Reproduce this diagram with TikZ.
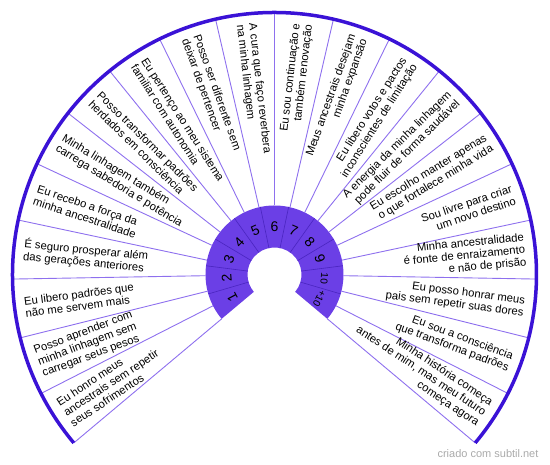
\documentclass[tikz,border=0pt]{standalone}
\usepackage{fontspec}
\setmainfont{Liberation Sans}
\definecolor{ringfill}{HTML}{6B3FE6}
\definecolor{ringline}{HTML}{4A25C0}
\definecolor{rayline}{HTML}{8E70EE}
\definecolor{arcline}{HTML}{3A12D6}
\definecolor{credit}{HTML}{AAAAAA}
\begin{document}
\begin{tikzpicture}[x=1pt,y=1pt,
  stmtL/.style={font=\fontsize{11.3}{12.3}\selectfont, align=left, anchor=west, inner sep=0pt},
  stmtR/.style={font=\fontsize{11.3}{12.3}\selectfont, align=right, anchor=east, inner sep=0pt},
  num/.style={font=\fontsize{14}{14}\selectfont, inner sep=0pt},
  numsmall/.style={font=\fontsize{10}{10}\selectfont, inner sep=0pt}]
\useasboundingbox (-274.5,-190.5) rectangle (275.5,274.5);
% inner numbered ring
\fill[ringfill] (220:27) -- (220:69) arc[start angle=220, end angle=-40, radius=69]
  -- (-40:27) arc[start angle=-40, end angle=220, radius=27] -- cycle;
\foreach \i in {1,...,10}
  \draw[ringline, line width=0.6] ({220-\i*260/11}:27) -- ({220-\i*260/11}:69);
% rays
\foreach \i in {0,...,20}
  \draw[rayline, line width=0.9] ({220-13*\i}:69) -- ({220-13*\i}:262);
% outer arc
\draw[arcline, line width=3.5] (220:262) arc[start angle=220, end angle=-40, radius=262];
% numbers
\foreach \i in {1,...,9}
  \node[num, rotate={130-(\i-0.5)*260/11}] (n\i) at ({220-(\i-0.5)*260/11}:48) {\i};
\node[numsmall, rotate=-94.55] (n10) at (-4.55:50) {10};
\node[numsmall, rotate=-118.18] (n11) at (-28.18:51) {+10};
% statements, left half
\node[stmtL, rotate=33.5] (s1) at (213.5:252) {Eu honro meus\\ancestrais sem repetir\\seus sofrimentos};
\node[stmtL, rotate=20.5] (s2) at (200.5:252) {Posso aprender com\\minha linhagem sem\\carregar seus pesos};
\node[stmtL, rotate=7.5] (s3) at (187.5:252) {Eu libero padrões que\\não me servem mais};
\node[stmtL, rotate=-5.5] (s4) at (174.5:252) {É seguro prosperar além\\das gerações anteriores};
\node[stmtL, rotate=-18.5] (s5) at (161.5:252) {Eu recebo a força da\\minha ancestralidade};
\node[stmtL, rotate=-31.5] (s6) at (148.5:252) {Minha linhagem também\\carrega sabedoria e potência};
\node[stmtL, rotate=-44.5] (s7) at (135.5:252) {Posso transformar padrões\\herdados em consciência};
\node[stmtL, rotate=-57.5] (s8) at (122.5:252) {Eu pertenço ao meu sistema\\familiar com autonomia};
\node[stmtL, rotate=-70.5] (s9) at (109.5:252) {Posso ser diferente sem\\deixar de pertencer};
\node[stmtL, rotate=-83.5] (s10) at (96.5:252) {A cura que faço reverbera\\na minha linhagem};
% statements, right half
\node[stmtR, rotate=83.5] (s11) at (83.5:252) {Eu sou continuação e\\também renovação};
\node[stmtR, rotate=70.5] (s12) at (70.5:252) {Meus ancestrais desejam\\minha expansão};
\node[stmtR, rotate=57.5] (s13) at (57.5:252) {Eu libero votos e pactos\\inconscientes de limitação};
\node[stmtR, rotate=44.5] (s14) at (44.5:252) {A energia da minha linhagem\\pode fluir de forma saudável};
\node[stmtR, rotate=31.5] (s15) at (31.5:252) {Eu escolho manter apenas\\o que fortalece minha vida};
\node[stmtR, rotate=18.5] (s16) at (18.5:252) {Sou livre para criar\\um novo destino};
\node[stmtR, rotate=5.5] (s17) at (5.5:252) {Minha ancestralidade\\é fonte de enraizamento\\e não de prisão};
\node[stmtR, rotate=-7.5] (s18) at (-7.5:252) {Eu posso honrar meus\\pais sem repetir suas dores};
\node[stmtR, rotate=-20.5] (s19) at (-20.5:252) {Eu sou a consciência\\que transforma padrões};
\node[stmtR, rotate=-33.5] (s20) at (-33.5:252) {Minha história começa\\antes de mim, mas meu futuro\\começa agora};
% credit
\node[font=\fontsize{11}{11}\selectfont, text=credit, inner sep=0pt] (credit) at (213.5,-179.5) {criado com subtil.net};
\end{tikzpicture}
\end{document}
